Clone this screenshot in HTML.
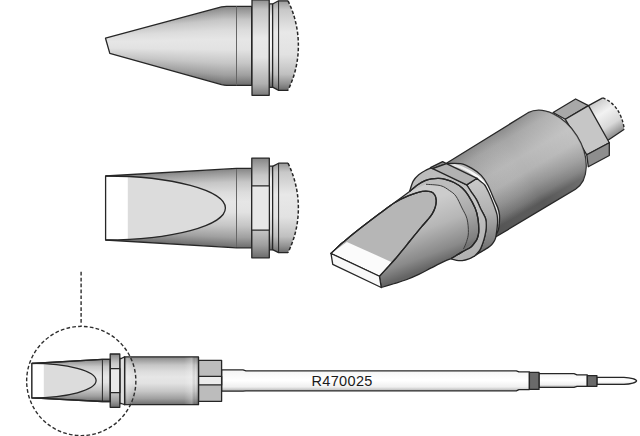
<!DOCTYPE html>
<html><head><meta charset="utf-8">
<style>
html,body{margin:0;padding:0;background:#fff;width:640px;height:436px;overflow:hidden}
svg{display:block}
</style></head>
<body>
<svg width="640" height="436" viewBox="0 0 640 436">
<defs>
<linearGradient id="cyl" x1="0" y1="0" x2="0" y2="1">
<stop offset="0" stop-color="#848484"/>
<stop offset="0.05" stop-color="#999999"/>
<stop offset="0.17" stop-color="#c6c6c6"/>
<stop offset="0.3" stop-color="#dcdcdc"/>
<stop offset="0.42" stop-color="#e6e6e6"/>
<stop offset="0.55" stop-color="#e2e2e2"/>
<stop offset="0.72" stop-color="#c6c6c6"/>
<stop offset="0.87" stop-color="#a0a0a0"/>
<stop offset="1" stop-color="#6c6c6c"/>
</linearGradient>
<linearGradient id="dome" x1="0" y1="0" x2="0" y2="1">
<stop offset="0" stop-color="#989898"/>
<stop offset="0.1" stop-color="#c8c8c8"/>
<stop offset="0.35" stop-color="#e8e8e8"/>
<stop offset="0.6" stop-color="#e2e2e2"/>
<stop offset="0.82" stop-color="#c0c0c0"/>
<stop offset="0.93" stop-color="#909090"/>
<stop offset="1" stop-color="#6a6a6a"/>
</linearGradient>
<linearGradient id="shaft" x1="0" y1="0" x2="0" y2="1">
<stop offset="0" stop-color="#f4f4f4"/>
<stop offset="0.5" stop-color="#ffffff"/>
<stop offset="0.8" stop-color="#f0f0f0"/>
<stop offset="1" stop-color="#b0b0b0"/>
</linearGradient>

<linearGradient id="barrelG" gradientUnits="userSpaceOnUse" x1="486" y1="131" x2="531" y2="208">
<stop offset="0" stop-color="#6e6e6e"/>
<stop offset="0.06" stop-color="#8a8a8a"/>
<stop offset="0.2" stop-color="#a6a6a6"/>
<stop offset="0.45" stop-color="#b8b8b8"/>
<stop offset="0.62" stop-color="#b2b2b2"/>
<stop offset="0.8" stop-color="#929292"/>
<stop offset="0.92" stop-color="#767676"/>
<stop offset="1" stop-color="#585858"/>
</linearGradient>
<linearGradient id="pinG" gradientUnits="userSpaceOnUse" x1="595" y1="101" x2="617" y2="135">
<stop offset="0" stop-color="#c8c8c8"/>
<stop offset="0.35" stop-color="#f2f2f2"/>
<stop offset="0.7" stop-color="#d8d8d8"/>
<stop offset="1" stop-color="#888888"/>
</linearGradient>
<linearGradient id="bodyG" gradientUnits="userSpaceOnUse" x1="418" y1="205" x2="440" y2="264">
<stop offset="0" stop-color="#cccccc"/>
<stop offset="0.4" stop-color="#b6b6b6"/>
<stop offset="0.8" stop-color="#8a8a8a"/>
<stop offset="1" stop-color="#646464"/>
</linearGradient>
<linearGradient id="discG" gradientUnits="userSpaceOnUse" x1="430" y1="170" x2="475" y2="258">
<stop offset="0" stop-color="#a8a8a8"/>
<stop offset="0.3" stop-color="#c4c4c4"/>
<stop offset="0.7" stop-color="#b8b8b8"/>
<stop offset="1" stop-color="#8c8c8c"/>
</linearGradient>
<linearGradient id="flg" x1="0" y1="0" x2="0" y2="1">
<stop offset="0" stop-color="#8e8e8e"/>
<stop offset="0.1" stop-color="#c2c2c2"/>
<stop offset="0.4" stop-color="#e8e8e8"/>
<stop offset="0.6" stop-color="#e4e4e4"/>
<stop offset="0.88" stop-color="#b0b0b0"/>
<stop offset="1" stop-color="#7a7a7a"/>
</linearGradient>
<linearGradient id="barrelOv" gradientUnits="userSpaceOnUse" x1="470" y1="195" x2="575" y2="135">
<stop offset="0" stop-color="#000" stop-opacity="0.08"/>
<stop offset="0.5" stop-color="#fff" stop-opacity="0"/>
<stop offset="1" stop-color="#fff" stop-opacity="0.18"/>
</linearGradient>
<linearGradient id="washG" gradientUnits="userSpaceOnUse" x1="446" y1="163" x2="495" y2="238">
<stop offset="0" stop-color="#b0b0b0"/>
<stop offset="0.4" stop-color="#c4c4c4"/>
<stop offset="0.7" stop-color="#b4b4b4"/>
<stop offset="1" stop-color="#8a8a8a"/>
</linearGradient>
<linearGradient id="washS" gradientUnits="userSpaceOnUse" x1="450" y1="164" x2="498" y2="224">
<stop offset="0" stop-color="#e0e0e0"/>
<stop offset="0.3" stop-color="#fafafa"/>
<stop offset="0.7" stop-color="#ffffff"/>
<stop offset="1" stop-color="#c0c0c0"/>
</linearGradient>
<linearGradient id="nutRG" gradientUnits="userSpaceOnUse" x1="475" y1="182" x2="485" y2="255">
<stop offset="0" stop-color="#c8c8c8"/>
<stop offset="0.45" stop-color="#b0b0b0"/>
<stop offset="1" stop-color="#686868"/>
</linearGradient>
<linearGradient id="nutFG" gradientUnits="userSpaceOnUse" x1="425" y1="175" x2="470" y2="258">
<stop offset="0" stop-color="#bcbcbc"/>
<stop offset="0.5" stop-color="#c6c6c6"/>
<stop offset="1" stop-color="#b0b0b0"/>
</linearGradient>
<clipPath id="clipTop"><polygon points="105.5,38.2 224.4,6.3 251.7,6.3 251.7,85.3 224.4,85.3 109.8,53.4"/></clipPath>
<clipPath id="clipMid"><polygon points="105.6,176 236.5,168.4 251.7,168.4 251.7,247.8 236.5,247.8 105.6,240"/></clipPath>
<linearGradient id="groove" x1="0" y1="0" x2="0" y2="1">
<stop offset="0" stop-color="#b0b0b0"/>
<stop offset="0.15" stop-color="#f0f0f0"/>
<stop offset="0.5" stop-color="#fafafa"/>
<stop offset="0.8" stop-color="#d0d0d0"/>
<stop offset="1" stop-color="#606060"/>
</linearGradient>
<linearGradient id="barEnd" x1="0" y1="0" x2="1" y2="0">
<stop offset="0" stop-color="#fff" stop-opacity="0"/>
<stop offset="0.55" stop-color="#fff" stop-opacity="0.25"/>
<stop offset="0.8" stop-color="#000" stop-opacity="0"/>
<stop offset="1" stop-color="#000" stop-opacity="0.15"/>
</linearGradient>
<linearGradient id="barStart" x1="0" y1="0" x2="1" y2="0">
<stop offset="0" stop-color="#fff" stop-opacity="0.05"/>
<stop offset="0.35" stop-color="#fff" stop-opacity="0.25"/>
<stop offset="1" stop-color="#fff" stop-opacity="0"/>
</linearGradient>
</defs>

<g stroke="#262626" stroke-width="1.3" stroke-linejoin="round">
<!-- ===== TOP TIP (conical) ===== -->
<g clip-path="url(#clipTop)" stroke="none">
<rect x="105.00" y="22.18" width="2.60" height="47.17" fill="url(#cyl)"/>
<rect x="107.00" y="21.91" width="2.60" height="47.44" fill="url(#cyl)"/>
<rect x="109.00" y="21.65" width="2.60" height="47.73" fill="url(#cyl)"/>
<rect x="111.00" y="21.38" width="2.60" height="48.28" fill="url(#cyl)"/>
<rect x="113.00" y="21.11" width="2.60" height="48.82" fill="url(#cyl)"/>
<rect x="115.00" y="20.84" width="2.60" height="49.37" fill="url(#cyl)"/>
<rect x="117.00" y="20.57" width="2.60" height="49.92" fill="url(#cyl)"/>
<rect x="119.00" y="20.30" width="2.60" height="50.46" fill="url(#cyl)"/>
<rect x="121.00" y="20.04" width="2.60" height="51.01" fill="url(#cyl)"/>
<rect x="123.00" y="19.77" width="2.60" height="51.56" fill="url(#cyl)"/>
<rect x="125.00" y="19.50" width="2.60" height="52.10" fill="url(#cyl)"/>
<rect x="127.00" y="19.23" width="2.60" height="52.65" fill="url(#cyl)"/>
<rect x="129.00" y="18.96" width="2.60" height="53.20" fill="url(#cyl)"/>
<rect x="131.00" y="18.70" width="2.60" height="53.74" fill="url(#cyl)"/>
<rect x="133.00" y="18.43" width="2.60" height="54.29" fill="url(#cyl)"/>
<rect x="135.00" y="18.16" width="2.60" height="54.84" fill="url(#cyl)"/>
<rect x="137.00" y="17.89" width="2.60" height="55.38" fill="url(#cyl)"/>
<rect x="139.00" y="17.62" width="2.60" height="55.93" fill="url(#cyl)"/>
<rect x="141.00" y="17.35" width="2.60" height="56.48" fill="url(#cyl)"/>
<rect x="143.00" y="17.09" width="2.60" height="57.02" fill="url(#cyl)"/>
<rect x="145.00" y="16.82" width="2.60" height="57.57" fill="url(#cyl)"/>
<rect x="147.00" y="16.55" width="2.60" height="58.12" fill="url(#cyl)"/>
<rect x="149.00" y="16.28" width="2.60" height="58.66" fill="url(#cyl)"/>
<rect x="151.00" y="16.01" width="2.60" height="59.21" fill="url(#cyl)"/>
<rect x="153.00" y="15.74" width="2.60" height="59.76" fill="url(#cyl)"/>
<rect x="155.00" y="15.48" width="2.60" height="60.30" fill="url(#cyl)"/>
<rect x="157.00" y="15.21" width="2.60" height="60.85" fill="url(#cyl)"/>
<rect x="159.00" y="14.94" width="2.60" height="61.40" fill="url(#cyl)"/>
<rect x="161.00" y="14.67" width="2.60" height="61.94" fill="url(#cyl)"/>
<rect x="163.00" y="14.40" width="2.60" height="62.49" fill="url(#cyl)"/>
<rect x="165.00" y="14.13" width="2.60" height="63.04" fill="url(#cyl)"/>
<rect x="167.00" y="13.87" width="2.60" height="63.58" fill="url(#cyl)"/>
<rect x="169.00" y="13.60" width="2.60" height="64.13" fill="url(#cyl)"/>
<rect x="171.00" y="13.33" width="2.60" height="64.68" fill="url(#cyl)"/>
<rect x="173.00" y="13.06" width="2.60" height="65.22" fill="url(#cyl)"/>
<rect x="175.00" y="12.79" width="2.60" height="65.77" fill="url(#cyl)"/>
<rect x="177.00" y="12.52" width="2.60" height="66.32" fill="url(#cyl)"/>
<rect x="179.00" y="12.26" width="2.60" height="66.86" fill="url(#cyl)"/>
<rect x="181.00" y="11.99" width="2.60" height="67.41" fill="url(#cyl)"/>
<rect x="183.00" y="11.72" width="2.60" height="67.96" fill="url(#cyl)"/>
<rect x="185.00" y="11.45" width="2.60" height="68.50" fill="url(#cyl)"/>
<rect x="187.00" y="11.18" width="2.60" height="69.05" fill="url(#cyl)"/>
<rect x="189.00" y="10.91" width="2.60" height="69.60" fill="url(#cyl)"/>
<rect x="191.00" y="10.65" width="2.60" height="70.14" fill="url(#cyl)"/>
<rect x="193.00" y="10.38" width="2.60" height="70.69" fill="url(#cyl)"/>
<rect x="195.00" y="10.11" width="2.60" height="71.24" fill="url(#cyl)"/>
<rect x="197.00" y="9.84" width="2.60" height="71.78" fill="url(#cyl)"/>
<rect x="199.00" y="9.57" width="2.60" height="72.33" fill="url(#cyl)"/>
<rect x="201.00" y="9.30" width="2.60" height="72.88" fill="url(#cyl)"/>
<rect x="203.00" y="9.04" width="2.60" height="73.42" fill="url(#cyl)"/>
<rect x="205.00" y="8.77" width="2.60" height="73.97" fill="url(#cyl)"/>
<rect x="207.00" y="8.50" width="2.60" height="74.52" fill="url(#cyl)"/>
<rect x="209.00" y="8.23" width="2.60" height="75.06" fill="url(#cyl)"/>
<rect x="211.00" y="7.96" width="2.60" height="75.61" fill="url(#cyl)"/>
<rect x="213.00" y="7.70" width="2.60" height="76.16" fill="url(#cyl)"/>
<rect x="215.00" y="7.43" width="2.60" height="76.70" fill="url(#cyl)"/>
<rect x="217.00" y="7.16" width="2.60" height="77.25" fill="url(#cyl)"/>
<rect x="219.00" y="6.89" width="2.60" height="77.80" fill="url(#cyl)"/>
<rect x="221.00" y="6.62" width="2.60" height="78.34" fill="url(#cyl)"/>
<rect x="223.00" y="6.35" width="2.00" height="78.89" fill="url(#cyl)"/>
</g>
<rect x="224" y="6.3" width="28" height="79" fill="url(#cyl)" stroke="none"/>
<path d="M105.5,38.2 L221.5,6.9 Q224.4,6.3 226.5,6.3 L251.7,6.3 L251.7,85.3 L226.5,85.3 Q224.4,85.3 221.5,84.6 L109.8,53.4 Z" fill="none"/>
<line x1="236.5" y1="6.3" x2="236.5" y2="85.3" stroke-width="1" stroke="#666"/>
<!-- dome -->
<path d="M272.6,4 L278.6,0.8 L288,0.8 A101.7,101.7 0 0 1 288,90.3 L278.6,90.3 L272.6,87.2 Z" fill="url(#dome)" stroke="none"/>
<path d="M288,0.8 A101.7,101.7 0 0 1 288,90.3" fill="none" stroke-dasharray="3.4,2" stroke-width="1.5"/>
<path d="M288,0.8 L278.6,0.8 L272.6,4 M272.6,87.2 L278.6,90.3 L288,90.3" fill="none"/>
<line x1="278.6" y1="0.8" x2="278.6" y2="90.3" stroke-width="1"/>
<rect x="269.2" y="3.8" width="3.4" height="83.6" fill="url(#groove)"/>
<rect x="252" y="-0.2" width="17.2" height="95.5" fill="url(#flg)"/>

<!-- ===== MIDDLE TIP (chisel) ===== -->
<g clip-path="url(#clipMid)" stroke="none">
<rect x="105.60" y="175.91" width="3.60" height="64.18" fill="url(#cyl)"/>
<rect x="108.60" y="175.74" width="3.60" height="64.53" fill="url(#cyl)"/>
<rect x="111.60" y="175.56" width="3.60" height="64.88" fill="url(#cyl)"/>
<rect x="114.60" y="175.39" width="3.60" height="65.24" fill="url(#cyl)"/>
<rect x="117.60" y="175.22" width="3.60" height="65.59" fill="url(#cyl)"/>
<rect x="120.60" y="175.04" width="3.60" height="65.94" fill="url(#cyl)"/>
<rect x="123.60" y="174.87" width="3.60" height="66.29" fill="url(#cyl)"/>
<rect x="126.60" y="174.69" width="3.60" height="66.65" fill="url(#cyl)"/>
<rect x="129.60" y="174.52" width="3.60" height="67.00" fill="url(#cyl)"/>
<rect x="132.60" y="174.35" width="3.60" height="67.35" fill="url(#cyl)"/>
<rect x="135.60" y="174.17" width="3.60" height="67.71" fill="url(#cyl)"/>
<rect x="138.60" y="174.00" width="3.60" height="68.06" fill="url(#cyl)"/>
<rect x="141.60" y="173.82" width="3.60" height="68.41" fill="url(#cyl)"/>
<rect x="144.60" y="173.65" width="3.60" height="68.76" fill="url(#cyl)"/>
<rect x="147.60" y="173.47" width="3.60" height="69.12" fill="url(#cyl)"/>
<rect x="150.60" y="173.30" width="3.60" height="69.47" fill="url(#cyl)"/>
<rect x="153.60" y="173.13" width="3.60" height="69.82" fill="url(#cyl)"/>
<rect x="156.60" y="172.95" width="3.60" height="70.18" fill="url(#cyl)"/>
<rect x="159.60" y="172.78" width="3.60" height="70.53" fill="url(#cyl)"/>
<rect x="162.60" y="172.60" width="3.60" height="70.88" fill="url(#cyl)"/>
<rect x="165.60" y="172.43" width="3.60" height="71.24" fill="url(#cyl)"/>
<rect x="168.60" y="172.26" width="3.60" height="71.59" fill="url(#cyl)"/>
<rect x="171.60" y="172.08" width="3.60" height="71.94" fill="url(#cyl)"/>
<rect x="174.60" y="171.91" width="3.60" height="72.29" fill="url(#cyl)"/>
<rect x="177.60" y="171.73" width="3.60" height="72.65" fill="url(#cyl)"/>
<rect x="180.60" y="171.56" width="3.60" height="73.00" fill="url(#cyl)"/>
<rect x="183.60" y="171.38" width="3.60" height="73.35" fill="url(#cyl)"/>
<rect x="186.60" y="171.21" width="3.60" height="73.71" fill="url(#cyl)"/>
<rect x="189.60" y="171.04" width="3.60" height="74.06" fill="url(#cyl)"/>
<rect x="192.60" y="170.86" width="3.60" height="74.41" fill="url(#cyl)"/>
<rect x="195.60" y="170.69" width="3.60" height="74.76" fill="url(#cyl)"/>
<rect x="198.60" y="170.51" width="3.60" height="75.12" fill="url(#cyl)"/>
<rect x="201.60" y="170.34" width="3.60" height="75.47" fill="url(#cyl)"/>
<rect x="204.60" y="170.17" width="3.60" height="75.82" fill="url(#cyl)"/>
<rect x="207.60" y="169.99" width="3.60" height="76.18" fill="url(#cyl)"/>
<rect x="210.60" y="169.82" width="3.60" height="76.53" fill="url(#cyl)"/>
<rect x="213.60" y="169.64" width="3.60" height="76.88" fill="url(#cyl)"/>
<rect x="216.60" y="169.47" width="3.60" height="77.24" fill="url(#cyl)"/>
<rect x="219.60" y="169.29" width="3.60" height="77.59" fill="url(#cyl)"/>
<rect x="222.60" y="169.12" width="3.60" height="77.94" fill="url(#cyl)"/>
<rect x="225.60" y="168.95" width="3.60" height="78.29" fill="url(#cyl)"/>
<rect x="228.60" y="168.77" width="3.60" height="78.65" fill="url(#cyl)"/>
<rect x="231.60" y="168.60" width="3.60" height="79.00" fill="url(#cyl)"/>
<rect x="234.60" y="168.42" width="2.50" height="79.35" fill="url(#cyl)"/>
</g>
<rect x="236" y="168.4" width="16" height="79.4" fill="url(#cyl)" stroke="none"/>
<path d="M105.6,176 A119.8,32 0 0 1 105.6,240 Z" fill="#dcdcdc" stroke="none"/>
<rect x="105.6" y="176.2" width="22.2" height="63.6" fill="#fff" stroke="none"/>
<path d="M105.6,176 A119.8,32 0 0 1 105.6,240" fill="none"/>
<line x1="236.5" y1="168.4" x2="236.5" y2="247.8" stroke-width="1" stroke="#666"/>
<polygon points="105.6,176 236.5,168.4 251.7,168.4 251.7,247.8 236.5,247.8 105.6,240" fill="none"/>
<!-- dome -->
<path d="M272.6,166.4 L278.6,163.2 L288,163.2 A101.7,101.7 0 0 1 288,252.7 L278.6,252.7 L272.6,249.6 Z" fill="url(#dome)" stroke="none"/>
<path d="M288,163.2 A101.7,101.7 0 0 1 288,252.7" fill="none" stroke-dasharray="3.4,2" stroke-width="1.5"/>
<path d="M288,163.2 L278.6,163.2 L272.6,166.4 M272.6,249.6 L278.6,252.7 L288,252.7" fill="none"/>
<line x1="278.6" y1="163.2" x2="278.6" y2="252.7" stroke-width="1"/>
<rect x="269.2" y="166.2" width="3.4" height="83.6" fill="url(#groove)"/>
<rect x="251.8" y="158.1" width="17.5" height="99.7" fill="url(#cyl)"/>
<rect x="251.7" y="185.9" width="17.7" height="44.3" fill="#e8e8e8"/>

<!-- ===== BOTTOM FULL TIP ===== -->
<!-- shaft -->
<path d="M221.6,369.8 L243,369.8 L246,370.8 L516.3,370.8 L519,371.9 L529.4,371.9 L529.4,389.6 L519,389.6 L516.3,390.8 L246,390.8 L243,391.2 L221.6,391.2 Z" fill="url(#shaft)"/>
<path d="M539,373.6 L574,373.6 L577,374.8 L587.3,374.8 L587.3,386.4 L577,386.4 L574,387.3 L539,387.3 Z" fill="url(#shaft)"/>
<path d="M596.9,377.3 L624,377.3 C631,377.5 636.3,379.3 636.6,380.85 C636.3,382.4 631,384.2 624,384.4 L596.9,384.4 Z" fill="url(#shaft)"/>
<rect x="529.4" y="372.3" width="9.6" height="17.1" fill="#6a6a6a"/>
<rect x="587.3" y="375.6" width="9.6" height="10.7" fill="#6a6a6a"/>
<!-- hex nut -->
<rect x="198.5" y="360.3" width="23.1" height="41" fill="#bcbcbc"/>
<rect x="198.5" y="376.4" width="23.1" height="8.5" fill="#ececec"/>
<!-- barrel -->
<rect x="124.6" y="356.9" width="73.9" height="47.8" fill="url(#cyl)"/>
<rect x="184" y="357.5" width="14.5" height="46.6" fill="url(#barEnd)" stroke="none"/>
<rect x="124.6" y="357.5" width="8" height="46.6" fill="url(#barStart)" stroke="none"/>
<path d="M119.8,358.5 L121.3,358.5 L124.6,356.9 L124.6,404.7 L121.3,403.5 L119.8,403.5 Z" fill="#e0e0e0"/>
<!-- flange -->
<rect x="110.2" y="354" width="9.6" height="53.3" fill="url(#cyl)"/>
<rect x="110.2" y="368.7" width="9.6" height="23.9" fill="#e8e8e8"/>
<!-- chisel body -->
<polygon points="31.9,363.5 102.2,359.4 110.2,359.4 110.2,401.5 102.2,401.5 31.9,397.9" fill="url(#cyl)"/>
<path d="M31.9,363.4 A64.3,17.2 0 0 1 31.9,397.8 Z" fill="#dcdcdc" stroke="none"/>
<rect x="31.9" y="363.5" width="11.9" height="34.4" fill="#fff" stroke="none"/>
<path d="M31.9,363.4 A64.3,17.2 0 0 1 31.9,397.8" fill="none"/>
<line x1="102.4" y1="359.4" x2="102.4" y2="401.5" stroke-width="1"/>
<polygon points="31.9,363.5 102.2,359.4 110.2,359.4 110.2,401.5 102.2,401.5 31.9,397.9" fill="none"/>
<text x="311.4" y="385.6" font-family="Liberation Sans, sans-serif" font-size="14.5" letter-spacing="0.36" fill="#1a1a1a" stroke="none">R470025</text>
<!-- dashed circle + line -->
<circle cx="81.25" cy="381" r="54.6" fill="none" stroke="#2e2e2e" stroke-width="1.4" stroke-dasharray="3.7,2.2"/>
<line x1="81.1" y1="271.8" x2="81.1" y2="325.5" stroke="#2e2e2e" stroke-width="1.4" stroke-dasharray="3.7,2.2"/>

<!-- ===== 3D VIEW ===== -->
<path d="M588.5,105.6 L602.7,97.9 C614,102 622,113 624.3,129.3 L608,140.3 Z" fill="url(#pinG)" stroke="none"/>
<path d="M588.5,105.6 L602.7,97.9 M624.3,129.3 L608,140.3" fill="none"/>
<path d="M602.7,97.9 C614,102 622,113 624.3,129.3" fill="none" stroke-dasharray="3,2" stroke-width="1.4"/>
<polygon points="553.1,112.5 575.6,99 588.5,105.6 565.3,119.3" fill="#a8a8a8"/>
<polygon points="565.3,119.3 588.5,105.6 609.3,142.8 586.8,154.8" fill="#c6c6c6"/>
<polygon points="586.8,154.8 609.3,142.8 609.3,155.5 588.3,166.8" fill="#8e8e8e"/>
<path d="M446,163.5 L528.1,112.7 A30.5,45 -33 0 1 575.5,189.1 L496,236.8 Z" fill="url(#barrelG)"/>
<path d="M446,163.5 L528.1,112.7 A30.5,45 -33 0 1 575.5,189.1 L496,236.8 Z" fill="url(#barrelOv)" stroke="none"/>
<path d="M446.00,163.60 C448.43,163.62 456.28,162.90 460.60,163.70 C464.92,164.50 468.47,166.45 471.90,168.40 C475.33,170.35 478.55,172.63 481.20,175.40 C483.85,178.17 485.62,180.90 487.80,185.00 C489.98,189.10 492.62,196.17 494.30,200.00 C495.98,203.83 497.03,205.50 497.90,208.00 C498.77,210.50 499.25,212.67 499.50,215.00 C499.75,217.33 499.58,219.53 499.40,222.00 C499.22,224.47 499.10,227.37 498.40,229.80 C497.70,232.23 495.73,235.47 495.20,236.60 L480,240 L440,170 Z" fill="url(#washG)" stroke="none"/>
<path d="M450.00,164.60 C451.33,164.87 455.33,165.37 458.00,166.20 C460.67,167.03 463.50,168.37 466.00,169.60 C468.50,170.83 470.92,172.27 473.00,173.60 C475.08,174.93 476.80,176.13 478.50,177.60 C480.20,179.07 481.70,180.58 483.20,182.40 C484.70,184.22 486.17,186.23 487.50,188.50 C488.83,190.77 490.03,193.42 491.20,196.00 C492.37,198.58 493.55,201.42 494.50,204.00 C495.45,206.58 496.28,209.17 496.90,211.50 C497.52,213.83 497.95,216.08 498.20,218.00 C498.45,219.92 498.37,222.17 498.40,223.00" fill="none" stroke="url(#washS)" stroke-width="2.6" stroke-linecap="round"/>
<path d="M446.00,163.60 C448.43,163.62 456.28,162.90 460.60,163.70 C464.92,164.50 468.47,166.45 471.90,168.40 C475.33,170.35 478.55,172.63 481.20,175.40 C483.85,178.17 485.62,180.90 487.80,185.00 C489.98,189.10 492.62,196.17 494.30,200.00 C495.98,203.83 497.03,205.50 497.90,208.00 C498.77,210.50 499.25,212.67 499.50,215.00 C499.75,217.33 499.58,219.53 499.40,222.00 C499.22,224.47 499.10,227.37 498.40,229.80 C497.70,232.23 495.73,235.47 495.20,236.60" fill="none"/>
<path d="M466.70,184.90 L477,178.3 C477.67,178.88 479.72,180.68 481.00,181.80 C482.28,182.92 483.45,183.30 484.70,185.00 C485.95,186.70 487.30,189.50 488.50,192.00 C489.70,194.50 490.85,197.42 491.90,200.00 C492.95,202.58 493.93,205.00 494.80,207.50 C495.67,210.00 496.63,212.58 497.10,215.00 C497.57,217.42 497.62,219.67 497.60,222.00 C497.58,224.33 497.22,227.00 497.00,229.00 C496.78,231.00 496.55,232.47 496.30,234.00 C496.05,235.53 495.90,236.92 495.50,238.20 C495.10,239.48 494.55,240.60 493.90,241.70 C493.25,242.80 492.63,243.77 491.60,244.80 C490.57,245.83 489.13,246.92 487.70,247.90 C486.27,248.88 484.43,249.85 483.00,250.70 C481.57,251.55 480.53,252.10 479.10,253.00 C477.67,253.90 475.18,255.58 474.40,256.10 C475.25,255.20 478.13,252.78 479.50,250.70 C480.87,248.62 481.70,246.08 482.60,243.60 C483.50,241.12 484.30,238.40 484.90,235.80 C485.50,233.20 486.08,230.83 486.20,228.00 C486.32,225.17 486.58,222.13 485.60,218.80 C484.62,215.47 481.80,211.15 480.30,208.00 C478.80,204.85 478.17,202.67 476.60,199.90 C475.03,197.13 472.55,193.90 470.90,191.40 C469.25,188.90 467.40,185.98 466.70,184.90 Z" fill="url(#nutRG)"/>
<path d="M409.60,191.40 C410.20,189.68 411.68,183.88 413.20,181.10 C414.72,178.32 416.57,176.53 418.70,174.70 C420.83,172.87 423.72,171.33 426.00,170.10 C428.28,168.87 431.33,167.77 432.40,167.30 L466.7,184.9 C467.40,185.98 469.25,188.90 470.90,191.40 C472.55,193.90 475.03,197.13 476.60,199.90 C478.17,202.67 478.80,204.85 480.30,208.00 C481.80,211.15 484.62,215.47 485.60,218.80 C486.58,222.13 486.32,225.17 486.20,228.00 C486.08,230.83 485.50,233.20 484.90,235.80 C484.30,238.40 483.50,241.12 482.60,243.60 C481.70,246.08 480.87,248.62 479.50,250.70 C478.13,252.78 475.25,255.20 474.40,256.10 C473.48,256.57 470.92,258.15 468.90,258.90 C466.88,259.65 464.30,260.37 462.25,260.60 C460.20,260.83 458.48,260.61 456.60,260.30 C454.73,259.99 451.93,259.01 451.00,258.75 L430,240 Z" fill="url(#nutFG)"/>
<polygon points="430.4,167.6 442.6,161.6 446.5,163.6 432.6,168.6" fill="#8c8c8c"/>
<polygon points="432.6,168.6 446.5,163.6 477,178.3 466.7,184.9" fill="#b2b2b2"/>
<path d="M331,253.5 L341.25,243.75 C344.38,241.22 353.54,233.67 360.00,228.60 C366.46,223.53 374.00,217.82 380.00,213.30 C386.00,208.78 391.07,205.15 396.00,201.50 C400.93,197.85 407.33,193.08 409.60,191.40 C410.97,190.30 415.22,186.60 417.80,184.80 C420.38,183.00 422.82,181.60 425.10,180.60 C427.38,179.60 429.20,179.18 431.50,178.80 C433.80,178.42 436.60,178.22 438.90,178.30 C441.20,178.38 442.78,178.60 445.30,179.30 C447.82,180.00 451.13,181.02 454.00,182.50 C456.87,183.98 460.15,186.08 462.50,188.20 C464.85,190.32 466.00,191.90 468.10,195.20 C470.20,198.50 473.45,204.07 475.10,208.00 C476.75,211.93 477.40,214.72 478.00,218.80 C478.60,222.88 478.90,229.05 478.70,232.50 C478.50,235.95 477.46,237.83 476.80,239.50 C476.14,241.17 475.72,241.27 474.75,242.50 C473.78,243.73 473.08,245.33 471.00,246.90 C468.92,248.47 465.58,249.93 462.25,251.90 C458.92,253.88 452.88,257.61 451.00,258.75 C449.79,259.23 447.04,260.08 443.75,261.60 C440.46,263.12 435.42,265.77 431.25,267.90 C427.08,270.03 422.92,272.42 418.75,274.40 C414.58,276.38 410.42,278.19 406.25,279.75 C402.08,281.31 397.92,282.46 393.75,283.75 C389.58,285.04 383.33,286.88 381.25,287.50 L379.4,276.25 Z" fill="url(#bodyG)"/>
<path d="M409.60,191.40 C410.97,190.30 415.22,186.60 417.80,184.80 C420.38,183.00 422.82,181.60 425.10,180.60 C427.38,179.60 429.20,179.18 431.50,178.80 C433.80,178.42 436.60,178.22 438.90,178.30 C441.20,178.38 442.78,178.60 445.30,179.30 C447.82,180.00 451.13,181.02 454.00,182.50 C456.87,183.98 460.15,186.08 462.50,188.20 C464.85,190.32 466.00,191.90 468.10,195.20 C470.20,198.50 473.45,204.07 475.10,208.00 C476.75,211.93 477.40,214.72 478.00,218.80 C478.60,222.88 478.90,229.05 478.70,232.50 C478.50,235.95 477.46,237.83 476.80,239.50 C476.14,241.17 475.09,242.00 474.75,242.50 L463.50,249.00 C464.02,247.75 465.78,244.25 466.60,241.50 C467.42,238.75 468.33,236.28 468.40,232.50 C468.47,228.72 468.07,222.88 467.00,218.80 C465.93,214.72 463.85,211.78 462.00,208.00 C460.15,204.22 458.00,199.02 455.90,196.10 C453.80,193.18 451.93,192.23 449.40,190.50 C446.87,188.77 444.60,186.73 440.70,185.70 C436.80,184.67 428.45,184.53 426.00,184.30 Z" fill="#000" fill-opacity="0.07" stroke="none"/>
<path d="M426.00,184.30 C428.45,184.53 436.80,184.67 440.70,185.70 C444.60,186.73 446.87,188.77 449.40,190.50 C451.93,192.23 453.80,193.18 455.90,196.10 C458.00,199.02 460.15,204.22 462.00,208.00 C463.85,211.78 465.93,214.72 467.00,218.80 C468.07,222.88 468.47,228.72 468.40,232.50 C468.33,236.28 467.42,238.75 466.60,241.50 C465.78,244.25 464.02,247.75 463.50,249.00" fill="none" stroke="#3c3c3c" stroke-width="1"/>
<path d="M409.60,191.40 C410.97,190.30 415.22,186.60 417.80,184.80 C420.38,183.00 422.82,181.60 425.10,180.60 C427.38,179.60 429.20,179.18 431.50,178.80 C433.80,178.42 436.60,178.22 438.90,178.30 C441.20,178.38 442.78,178.60 445.30,179.30 C447.82,180.00 451.13,181.02 454.00,182.50 C456.87,183.98 460.15,186.08 462.50,188.20 C464.85,190.32 466.00,191.90 468.10,195.20 C470.20,198.50 473.45,204.07 475.10,208.00 C476.75,211.93 477.40,214.72 478.00,218.80 C478.60,222.88 478.90,229.05 478.70,232.50 C478.50,235.95 477.46,237.83 476.80,239.50 C476.14,241.17 475.72,241.27 474.75,242.50 C473.78,243.73 473.08,245.33 471.00,246.90 C468.92,248.47 465.58,249.93 462.25,251.90 C458.92,253.88 452.88,257.61 451.00,258.75" fill="none"/>
<path d="M331.00,253.50 C332.71,251.88 339.54,245.38 341.25,243.75 C344.38,241.22 353.54,233.67 360.00,228.60 C366.46,223.53 374.17,217.65 380.00,213.30 C385.83,208.95 390.32,205.40 395.00,202.50 C399.68,199.60 403.57,197.75 408.10,195.90 C412.63,194.05 418.45,192.10 422.20,191.40 C425.95,190.70 428.50,191.10 430.60,191.70 C432.70,192.30 433.87,193.58 434.80,195.00 C435.73,196.42 436.12,198.20 436.20,200.20 C436.28,202.20 435.97,204.73 435.30,207.00 C434.63,209.27 433.50,211.63 432.20,213.80 C430.90,215.97 429.28,217.83 427.50,220.00 C425.72,222.17 423.43,224.53 421.50,226.80 C419.57,229.07 417.90,231.15 415.90,233.60 C413.90,236.05 411.65,238.83 409.50,241.50 C407.35,244.17 405.42,246.63 403.00,249.60 C400.58,252.57 397.67,256.23 395.00,259.30 C392.33,262.37 389.60,265.18 387.00,268.00 C384.40,270.82 380.67,274.88 379.40,276.25 Z" fill="#b6b6b6"/>
<path d="M331,253.5 L346.9,241.9 L391.25,261.9 L379.4,276.25 Z" fill="#fbfbfb" stroke="none"/>
<path d="M331.00,253.50 C332.71,251.88 339.54,245.38 341.25,243.75 C344.38,241.22 353.54,233.67 360.00,228.60 C366.46,223.53 374.17,217.65 380.00,213.30 C385.83,208.95 390.32,205.40 395.00,202.50 C399.68,199.60 403.57,197.75 408.10,195.90 C412.63,194.05 418.45,192.10 422.20,191.40 C425.95,190.70 428.50,191.10 430.60,191.70 C432.70,192.30 433.87,193.58 434.80,195.00 C435.73,196.42 436.12,198.20 436.20,200.20 C436.28,202.20 435.97,204.73 435.30,207.00 C434.63,209.27 433.50,211.63 432.20,213.80 C430.90,215.97 429.28,217.83 427.50,220.00 C425.72,222.17 423.43,224.53 421.50,226.80 C419.57,229.07 417.90,231.15 415.90,233.60 C413.90,236.05 411.65,238.83 409.50,241.50 C407.35,244.17 405.42,246.63 403.00,249.60 C400.58,252.57 397.67,256.23 395.00,259.30 C392.33,262.37 389.60,265.18 387.00,268.00 C384.40,270.82 380.67,274.88 379.40,276.25 Z" fill="none"/>
<polygon points="331,253.5 379.4,276.25 381.25,287.5 332.75,264.4" fill="#f8f8f8"/>
</g>
</svg>
</body></html>
